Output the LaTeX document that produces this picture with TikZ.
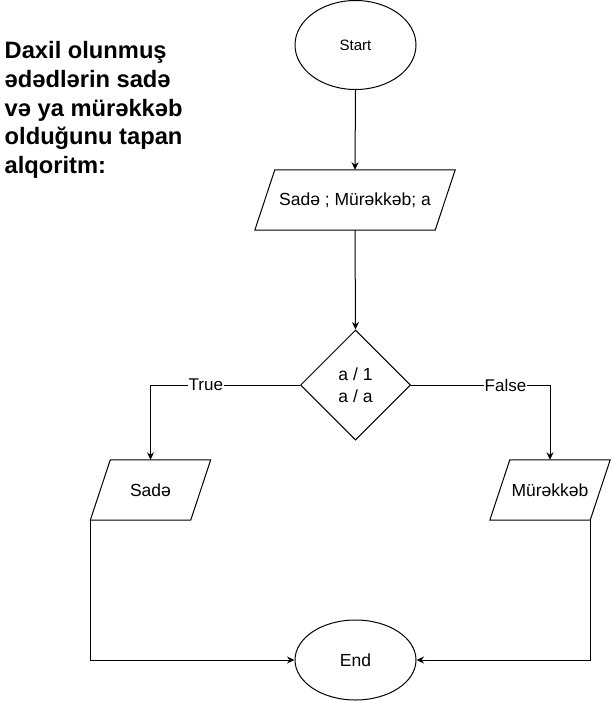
\documentclass[tikz,border=0pt]{standalone}
\usepackage{fontspec}
\setmainfont{Liberation Sans}
\usetikzlibrary{shapes.geometric,arrows.meta}
\tikzset{
  base/.style={draw=black, line width=1pt, inner sep=0pt, text=black, font=\fontsize{17.5}{22}\selectfont},
  oval/.style={base, ellipse, minimum width=121pt},
  parabody/.style={inner sep=0pt, text=black, font=\fontsize{17.5}{22}\selectfont, minimum height=60pt},
  outline/.style={draw=black, line width=1pt, line join=miter},
  decide/.style={base, diamond, minimum width=110pt, minimum height=110pt, align=center},
  arr/.style={line width=1pt, -{Stealth[length=7.5pt,width=7pt]}},
  lbl/.style={fill=white, inner sep=1pt, text=black, font=\fontsize{17}{20}\selectfont},
  title/.style={anchor=base west, inner sep=0pt, font=\fontsize{23.7}{28}\selectfont\bfseries}
}
\begin{document}
\begin{tikzpicture}[x=1pt,y=-1pt]
\useasboundingbox (0,0) rectangle (611,701);
% title
\node[title] (t1) at (4.5,58.3) {Daxil olunmuş};
\node[title] (t2) at (4.5,87.2) {ədədlərin sadə};
\node[title] (t3) at (4.5,116) {və ya mürəkkəb};
\node[title] (t4) at (4.5,144.8) {olduğunu tapan};
\node[title] (t5) at (4.5,173.5) {alqoritm:};
% shapes
\node[oval, minimum height=89pt, font=\fontsize{15}{18}\selectfont] (start) at (355.5,45) {Start};
\node[parabody, minimum width=200pt] (inp) at (355,200) {Sadə ; Mürəkkəb; a};
\draw[outline] ([xshift=20pt]inp.north west) -- (inp.north east) -- ([xshift=-20pt]inp.south east) -- (inp.south west) -- cycle;
\node[decide] (dia) at (355.5,385) {a / 1\\a / a};
\node[parabody, minimum width=120pt] (sade) at (150.5,490) {Sadə};
\draw[outline] ([xshift=20pt]sade.north west) -- (sade.north east) -- ([xshift=-20pt]sade.south east) -- (sade.south west) -- cycle;
\node[parabody, minimum width=120pt] (mur) at (550,490) {Mürəkkəb};
\draw[outline] ([xshift=20pt]mur.north west) -- (mur.north east) -- ([xshift=-20pt]mur.south east) -- (mur.south west) -- cycle;
\coordinate (murcorner) at ([xshift=-20pt]mur.south east);
\node[oval, minimum height=80pt] (end) at (355.5,660) {End};
% connectors
\draw[arr] (start.south) -- (inp.north);
\draw[arr] (inp.south) -- (dia.north);
\draw[arr] (dia.west) -| node[lbl, pos=0.315] {True} (sade.north);
\draw[arr] (dia.east) -| node[lbl, pos=0.34] {False} (mur.north);
\draw[arr] (sade.south west) |- (end.west);
\draw[arr] (murcorner) |- (end.east);
\end{tikzpicture}
\end{document}
